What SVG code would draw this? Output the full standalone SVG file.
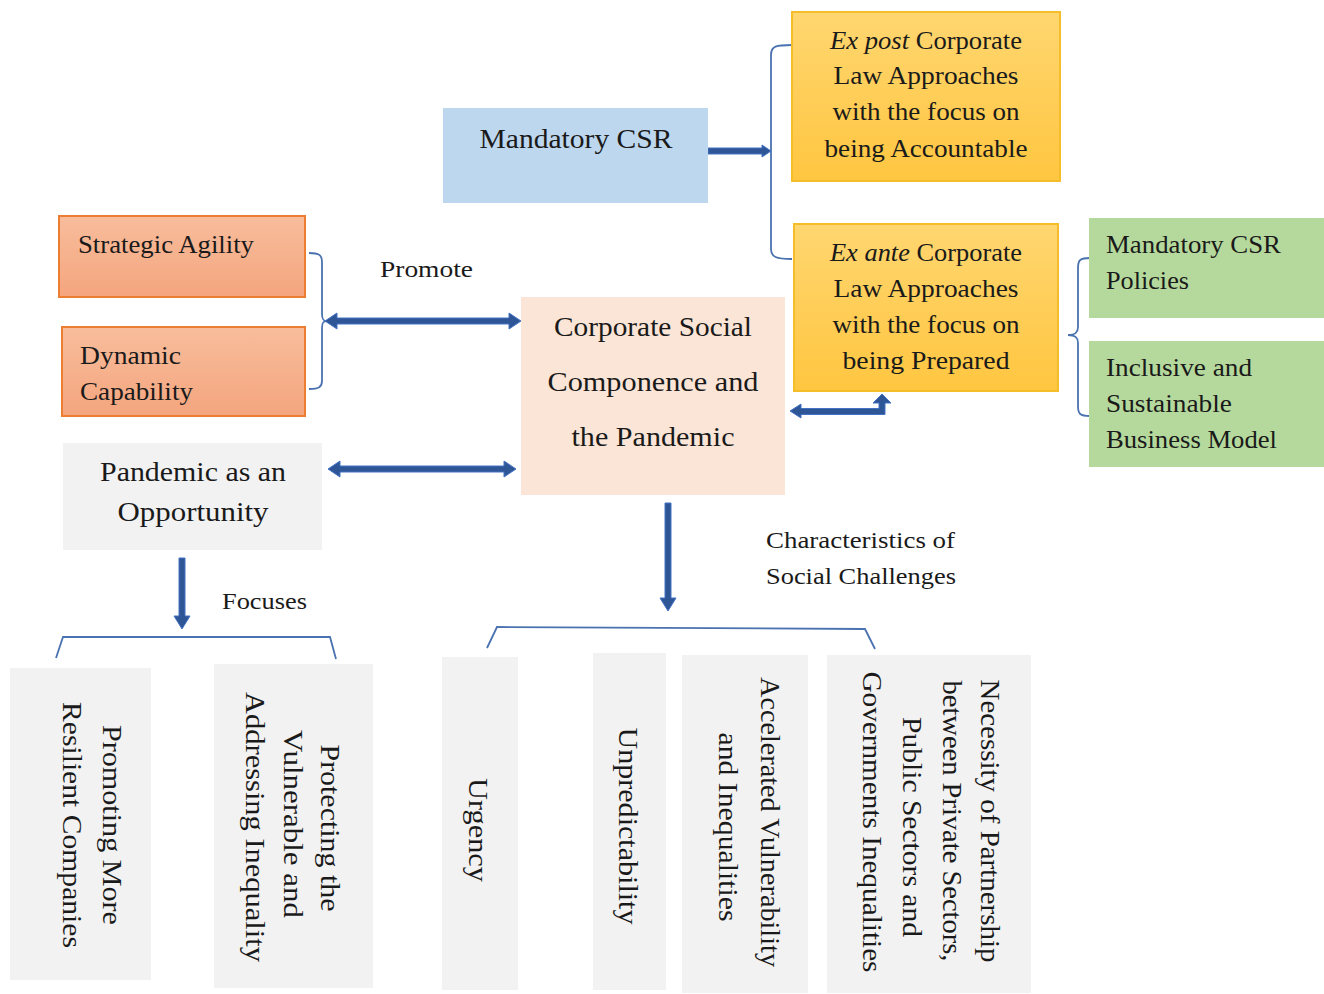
<svg xmlns="http://www.w3.org/2000/svg" width="1324" height="994" viewBox="0 0 1324 994">
<defs>
<linearGradient id="gold" x1="0" y1="0" x2="0" y2="1"><stop offset="0" stop-color="#ffd670"/><stop offset="1" stop-color="#ffc640"/></linearGradient>
<linearGradient id="orange" x1="0" y1="0" x2="0" y2="1"><stop offset="0" stop-color="#f8bd9c"/><stop offset="1" stop-color="#f4a57e"/></linearGradient>
<style>
text{font-family:"Liberation Serif","DejaVu Serif",serif;fill:#1a1a1a;dominant-baseline:central}
.c{text-anchor:middle}
.s24{font-size:24px}.s25{font-size:26px}.s26{font-size:26px}.s27{font-size:28px}.s28{font-size:28px}
.gold{fill:url(#gold);stroke:#f5bd2a;stroke-width:2}
.orange{fill:url(#orange);stroke:#ed7d31;stroke-width:2}
.green{fill:#b5d99c}
.grey{fill:#f2f2f2}
.arrow{fill:#2e5595;stroke:#4472c4;stroke-width:1}
.br{fill:none;stroke:#4a72b0;stroke-width:1.8}
</style>
</defs>
<rect width="1324" height="994" fill="#ffffff"/>

<g id="connectors">
<path class="br" d="M792 45 C776 45 771 46 771 55 L771 249 C771 257 776 259 792 259"/>
<path class="br" d="M1090 258 C1080 258 1078 260 1078 268 L1078 327 C1078 333 1075 335 1068 335 C1075 335 1078 337 1078 343 L1078 406 C1078 414 1080 416 1090 416"/>
<path class="br" d="M309 253 C319 253 322 255 322 262 L322 314 C322 319 323 321 327 321 C323 321 322 323 322 328 L322 381 C322 387 319 389 309 389"/>
<path class="br" d="M56 658 L63 637 L330 637 L336 659"/>
<path class="br" d="M487 648 L497 627 L865 629 L875 649"/>
<path class="arrow" d="M708 148 L762 148 L762 145 L771 151 L762 157 L762 154 L708 154 Z"/>
<path class="arrow" d="M325 321 L337 313 L337 318 L509 318 L509 313 L521 321 L509 329 L509 324 L337 324 L337 329 Z"/>
<path class="arrow" d="M328 469 L340 461 L340 466 L504 466 L504 461 L516 469 L504 477 L504 472 L340 472 L340 477 Z"/>
<path class="arrow" d="M790 411 L801 404 L801 408.5 L879 408.5 L879 403 L873 403 L882 394 L891 403 L885 403 L885 414.5 L801 414.5 L801 418 Z"/>
<path class="arrow" d="M665 503 L671 503 L671 598 L676 598 L668 611 L660 598 L665 598 Z"/>
<path class="arrow" d="M179 558 L185 558 L185 616 L190 616 L182 629 L174 616 L179 616 Z"/>
</g>

<g id="mandatory-csr">
<rect x="443" y="108" width="265" height="95" fill="#bdd7ee"/>
<text class="c s28" x="576" y="138" textLength="193" lengthAdjust="spacingAndGlyphs">Mandatory CSR</text>
</g>

<g id="ex-post">
<rect class="gold" x="792" y="12" width="268" height="169"/>
<text class="c s26" x="926" y="40" textLength="192" lengthAdjust="spacingAndGlyphs"><tspan font-style="italic">Ex post</tspan> Corporate</text>
<text class="c s26" x="926" y="75" textLength="185" lengthAdjust="spacingAndGlyphs">Law Approaches</text>
<text class="c s26" x="926" y="111" textLength="187" lengthAdjust="spacingAndGlyphs">with the focus on</text>
<text class="c s26" x="926" y="148" textLength="203" lengthAdjust="spacingAndGlyphs">being Accountable</text>
</g>

<g id="ex-ante">
<rect class="gold" x="794" y="224" width="264" height="167"/>
<text class="c s26" x="926" y="252" textLength="192" lengthAdjust="spacingAndGlyphs"><tspan font-style="italic">Ex ante</tspan> Corporate</text>
<text class="c s26" x="926" y="288" textLength="185" lengthAdjust="spacingAndGlyphs">Law Approaches</text>
<text class="c s26" x="926" y="324" textLength="187" lengthAdjust="spacingAndGlyphs">with the focus on</text>
<text class="c s26" x="926" y="360" textLength="167" lengthAdjust="spacingAndGlyphs">being Prepared</text>
</g>

<g id="mandatory-csr-policies">
<rect class="green" x="1089" y="218" width="235" height="100"/>
<text class="s25" x="1106" y="244" textLength="175" lengthAdjust="spacingAndGlyphs">Mandatory CSR</text>
<text class="s25" x="1106" y="280" textLength="83" lengthAdjust="spacingAndGlyphs">Policies</text>
</g>

<g id="inclusive-model">
<rect class="green" x="1089" y="341" width="235" height="126"/>
<text class="s25" x="1106" y="367" textLength="146" lengthAdjust="spacingAndGlyphs">Inclusive and</text>
<text class="s25" x="1106" y="403" textLength="126" lengthAdjust="spacingAndGlyphs">Sustainable</text>
<text class="s25" x="1106" y="439" textLength="171" lengthAdjust="spacingAndGlyphs">Business Model</text>
</g>

<g id="strategic-agility">
<rect class="orange" x="59" y="216" width="246" height="81"/>
<text class="s25" x="78" y="244" textLength="176" lengthAdjust="spacingAndGlyphs">Strategic Agility</text>
</g>

<g id="dynamic-capability">
<rect class="orange" x="62" y="327" width="243" height="89"/>
<text class="s25" x="80" y="355" textLength="101" lengthAdjust="spacingAndGlyphs">Dynamic</text>
<text class="s25" x="80" y="391" textLength="113" lengthAdjust="spacingAndGlyphs">Capability</text>
</g>

<g id="label-promote">
<text class="s24" x="380" y="269" textLength="93" lengthAdjust="spacingAndGlyphs">Promote</text>
</g>

<g id="center">
<rect x="521" y="297" width="264" height="198" fill="#fbe5d6"/>
<text class="c s27" x="653" y="326" textLength="198" lengthAdjust="spacingAndGlyphs">Corporate Social</text>
<text class="c s27" x="653" y="381" textLength="211" lengthAdjust="spacingAndGlyphs">Componence and</text>
<text class="c s27" x="653" y="436" textLength="163" lengthAdjust="spacingAndGlyphs">the Pandemic</text>
</g>

<g id="pandemic-opportunity">
<rect class="grey" x="63" y="443" width="259" height="107"/>
<text class="c s28" x="193" y="471" textLength="186" lengthAdjust="spacingAndGlyphs">Pandemic as an</text>
<text class="c s28" x="193" y="511" textLength="151" lengthAdjust="spacingAndGlyphs">Opportunity</text>
</g>

<g id="label-characteristics">
<text class="s24" x="766" y="540" textLength="189" lengthAdjust="spacingAndGlyphs">Characteristics of</text>
<text class="s24" x="766" y="576" textLength="190" lengthAdjust="spacingAndGlyphs">Social Challenges</text>
</g>

<g id="label-focuses">
<text class="s24" x="222" y="601" textLength="85" lengthAdjust="spacingAndGlyphs">Focuses</text>
</g>

<g id="resilient">
<rect class="grey" x="10" y="668" width="141" height="312"/>
<text class="c s27" transform="translate(112 825) rotate(90)" textLength="200" lengthAdjust="spacingAndGlyphs">Promoting More</text>
<text class="c s27" transform="translate(72 825) rotate(90)" textLength="246" lengthAdjust="spacingAndGlyphs">Resilient Companies</text>
</g>

<g id="vulnerable">
<rect class="grey" x="214" y="664" width="159" height="324"/>
<text class="c s27" transform="translate(330 828) rotate(90)" textLength="167" lengthAdjust="spacingAndGlyphs">Protecting the</text>
<text class="c s27" transform="translate(293 824) rotate(90)" textLength="188" lengthAdjust="spacingAndGlyphs">Vulnerable and</text>
<text class="c s27" transform="translate(255 827) rotate(90)" textLength="270" lengthAdjust="spacingAndGlyphs">Addressing Inequality</text>
</g>

<g id="urgency">
<rect class="grey" x="442" y="657" width="76" height="333"/>
<text class="c s27" transform="translate(478 830) rotate(90)" textLength="104" lengthAdjust="spacingAndGlyphs">Urgency</text>
</g>

<g id="unpredictability">
<rect class="grey" x="593" y="653" width="73" height="337"/>
<text class="c s27" transform="translate(628 826) rotate(90)" textLength="197" lengthAdjust="spacingAndGlyphs">Unpredictability</text>
</g>

<g id="accelerated">
<rect class="grey" x="682" y="655" width="126" height="338"/>
<text class="c s27" transform="translate(770 822) rotate(90)" textLength="290" lengthAdjust="spacingAndGlyphs">Accelerated Vulnerability</text>
<text class="c s27" transform="translate(728 827) rotate(90)" textLength="189" lengthAdjust="spacingAndGlyphs">and Inequalities</text>
</g>

<g id="partnership">
<rect class="grey" x="827" y="655" width="204" height="338"/>
<text class="c s27" transform="translate(990 821) rotate(90)" textLength="283" lengthAdjust="spacingAndGlyphs">Necessity of Partnership</text>
<text class="c s27" transform="translate(952 821) rotate(90)" textLength="281" lengthAdjust="spacingAndGlyphs">between Private Sectors,</text>
<text class="c s27" transform="translate(912 827) rotate(90)" textLength="220" lengthAdjust="spacingAndGlyphs">Public Sectors and</text>
<text class="c s27" transform="translate(872 822) rotate(90)" textLength="301" lengthAdjust="spacingAndGlyphs">Governments Inequalities</text>
</g>
</svg>
